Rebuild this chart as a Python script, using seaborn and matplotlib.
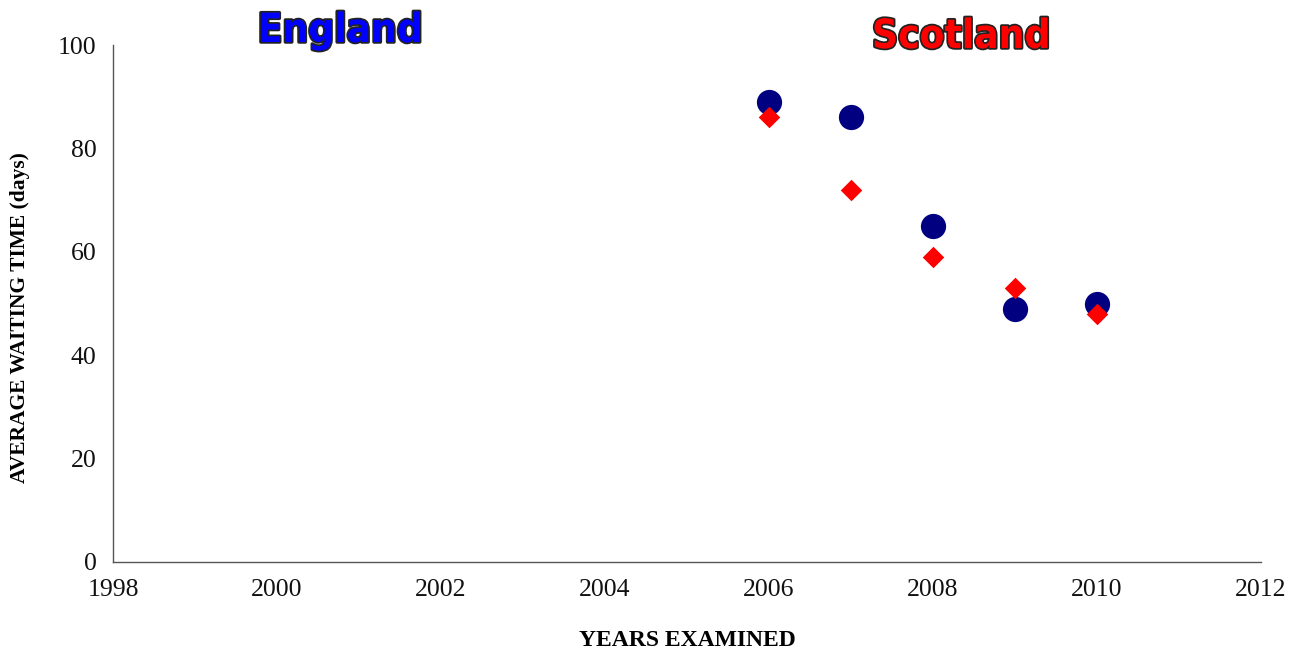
import matplotlib
matplotlib.use("Agg")
import matplotlib.pyplot as plt
import matplotlib.patheffects as pe
import seaborn as sns
import pandas as pd

years = [2006, 2007, 2008, 2009, 2010]
england_days = [89, 86, 65, 49, 50]
scotland_days = [86, 72, 59, 53, 48]

sns.set_style("white")
plt.rcParams["font.family"] = ["Liberation Serif", "DejaVu Serif"]
plt.rcParams["text.color"] = "black"
plt.rcParams["axes.labelcolor"] = "black"

df = pd.DataFrame({
    "year": years * 2,
    "days": england_days + scotland_days,
    "region": ["England"] * len(years) + ["Scotland"] * len(years),
})

fig = plt.figure(figsize=(13.04, 6.53), dpi=100)
ax = fig.add_axes([0.0867, 0.1394, 0.8804, 0.7916])

sns.scatterplot(data=df[df.region == "England"], x="year", y="days", ax=ax,
                marker="o", color="#000080", s=330, linewidth=0, legend=False)
sns.scatterplot(data=df[df.region == "Scotland"], x="year", y="days", ax=ax,
                marker="D", color="#ff0000", s=120, linewidth=0, legend=False)

ax.set_xlim(1998, 2012)
ax.set_ylim(0, 100)
ax.set_xticks(range(1998, 2013, 2))
ax.set_yticks(range(0, 101, 20))
ax.tick_params(axis="both", direction="out", length=6, width=1, color="#555555",
               labelsize=18.5, pad=6, labelcolor="#111111")
for side in ["top", "right"]:
    ax.spines[side].set_visible(False)
for side in ["left", "bottom"]:
    ax.spines[side].set_color("#555555")
    ax.spines[side].set_linewidth(1)

ax.set_xlabel("YEARS EXAMINED", fontsize=17, fontweight="bold", labelpad=21)
ax.set_ylabel("AVERAGE WAITING TIME (days)", fontsize=15.5, fontweight="bold")
ax.yaxis.set_label_coords(-0.072, 0.472)

title_font = ["DejaVu Sans", "Liberation Sans"]
outline = [pe.withStroke(linewidth=2.5, foreground="#222222")]
fig.text(340 / 1304, 1 - 31 / 653, "England", ha="center", va="center",
         fontsize=29, fontweight="bold", fontstretch="condensed", color="#0000ff",
         family=title_font, path_effects=outline)
fig.text(961 / 1304, 1 - 37 / 653, "Scotland", ha="center", va="center",
         fontsize=29, fontweight="bold", fontstretch="condensed", color="#ff0000",
         family=title_font, path_effects=outline)

fig.savefig("out.png", dpi=100)
